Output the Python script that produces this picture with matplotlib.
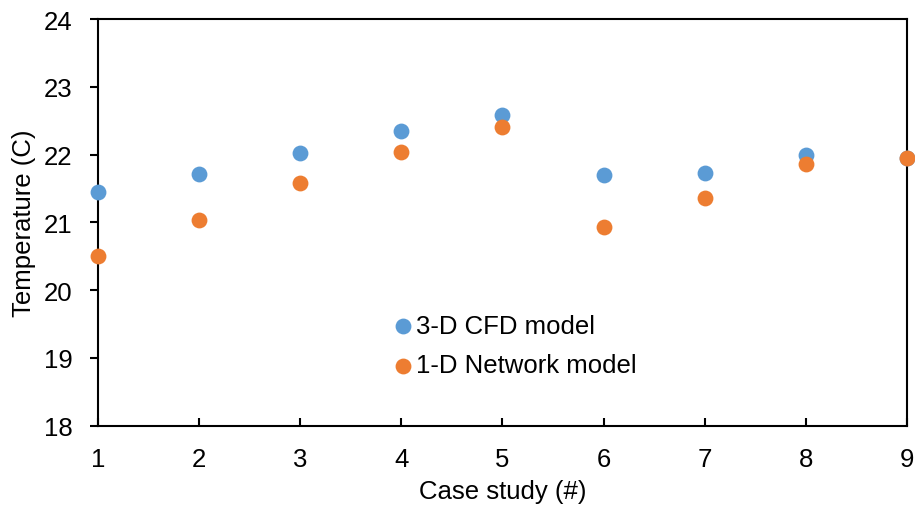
import matplotlib
matplotlib.use("Agg")
import matplotlib.pyplot as plt

plt.rcParams['font.family'] = ['Liberation Sans', 'DejaVu Sans']

cases = [1, 2, 3, 4, 5, 6, 7, 8, 9]
cfd_3d = [21.45, 21.71, 22.02, 22.35, 22.59, 21.70, 21.73, 21.99, 21.95]
network_1d = [20.50, 21.04, 21.58, 22.04, 22.40, 20.93, 21.36, 21.86, 21.95]
x_ticks = [1, 2, 3, 4, 5, 6, 7, 8, 9]
y_ticks = [18, 19, 20, 21, 22, 23, 24]

FS = 18.5
fig = plt.figure(figsize=(9.15, 5.06), dpi=100)
ax = fig.add_axes([97.7/915, 1-426.7/506, (907-97.7)/915, (426.7-20)/506])

ax.scatter(cases, cfd_3d, s=130, color='#5B9BD5', label='3-D CFD model', clip_on=False, zorder=3, linewidths=0)
ax.scatter(cases, network_1d, s=130, color='#ED7D31', label='1-D Network model', clip_on=False, zorder=4, linewidths=0)

ax.set_xlim(1, 9)
ax.set_ylim(18, 24)
ax.set_xticks(x_ticks)
ax.set_yticks(y_ticks)
for sp in ax.spines.values():
    sp.set_linewidth(1.5)
    sp.set_color('black')
ax.tick_params(axis='x', direction='in', length=6, width=1.5, pad=15, labelsize=FS)
ax.tick_params(axis='y', direction='out', length=6, width=1.5, pad=12, labelsize=FS)
ax.set_xlabel('Case study (#)', fontsize=FS, labelpad=6)
ax.set_ylabel('Temperature (C)', fontsize=FS, labelpad=6)

leg = ax.legend(loc='center left', bbox_to_anchor=(390/915, 1-346.5/506), bbox_transform=fig.transFigure,
                frameon=False, fontsize=FS, handletextpad=0.0, labelspacing=0.62,
                handlelength=1.0, borderpad=0, borderaxespad=0, markerscale=1.0)

fig.savefig('out.png', dpi=100)
